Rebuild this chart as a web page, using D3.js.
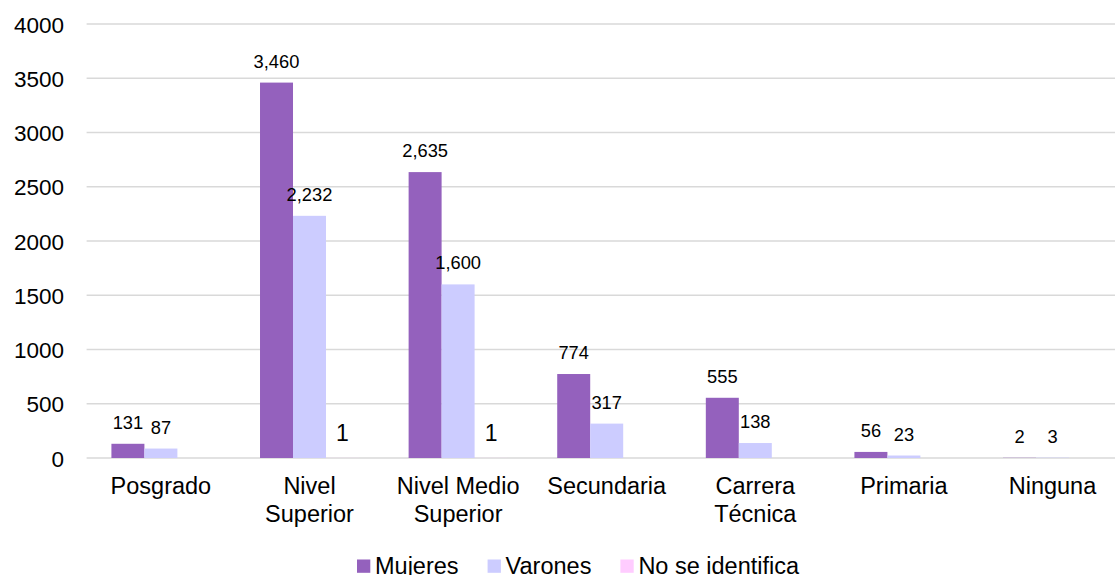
<!DOCTYPE html>
<html><head><meta charset="utf-8">
<script src="https://cdn.jsdelivr.net/npm/d3@7"></script>
<style>
html,body{margin:0;padding:0;background:#fff;}
svg{display:block;font-family:"Liberation Sans",Arial,sans-serif;}
</style></head>
<body>
<svg id="chart" width="1115" height="575"></svg>
<script>
const categories = ["Posgrado","Nivel Superior","Nivel Medio Superior","Secundaria","Carrera Técnica","Primaria","Ninguna"];
const categoryLines = [["Posgrado"],["Nivel","Superior"],["Nivel Medio","Superior"],["Secundaria"],["Carrera","Técnica"],["Primaria"],["Ninguna"]];
const seriesNames = ["Mujeres","Varones","No se identifica"];
const mujeres = [131,3460,2635,774,555,56,2];
const varones = [87,2232,1600,317,138,23,3];
const noIdentifica = [0,1,1,0,0,0,0];
const yTicks = [0,500,1000,1500,2000,2500,3000,3500,4000];
const colors = ["#9461BD","#CCCCFF","#FFCCFF"];

(function(){
const svg = d3.select("#chart");
const pLeft = 86.6, pRight = 1126.8, pTop = 24, pBottom = 458;

const x0 = d3.scaleBand().domain(categories).range([pLeft, pRight]).padding(0);
const gap = x0.bandwidth() * 0.334;
const x1 = d3.scaleBand().domain(seriesNames).range([gap/2, x0.bandwidth() - gap/2]).padding(0);
const y = d3.scaleLinear().domain([0,4000]).range([pBottom, pTop]);

// gridlines
svg.append("g").selectAll("line").data(yTicks).join("line")
  .attr("x1", pLeft).attr("x2", pRight)
  .attr("y1", d => y(d)).attr("y2", d => y(d))
  .attr("stroke", "#D9D9D9").attr("stroke-width", 1.3);

// y axis labels
const yAxis = d3.axisLeft(y).tickValues(yTicks).tickFormat(d3.format("d")).tickSize(0).tickPadding(0);
const ya = svg.append("g").attr("transform", `translate(64,0)`).call(yAxis);
ya.select(".domain").remove();
ya.selectAll("text").attr("font-size", 22.5).attr("fill", "#000")
  .attr("font-family", '"Liberation Sans",Arial,sans-serif')
  .attr("dy", null)
  .attr("y", 8);

const seriesData = [mujeres, varones, noIdentifica];
const rows = categories.map((c, i) => seriesNames.map((s, k) => ({cat: c, s, k, v: seriesData[k][i]})));

const groups = svg.append("g").selectAll("g").data(rows).join("g")
  .attr("transform", (d, i) => `translate(${x0(categories[i])},0)`);

groups.selectAll("rect").data(d => d).join("rect")
  .attr("x", d => x1(d.s)).attr("width", x1.bandwidth())
  .attr("y", d => y(d.v)).attr("height", d => pBottom - y(d.v))
  .attr("fill", d => colors[d.k]);

const fmt = d3.format(",");
groups.selectAll("text").data(d => d.filter(e => e.v > 0)).join("text")
  .attr("x", d => x1(d.s) + x1.bandwidth()/2)
  .attr("y", d => y(d.v) - (d.k === 2 ? 16.5 : 15))
  .attr("text-anchor", "middle")
  .attr("font-size", d => d.k === 2 ? 23 : 18.3)
  .attr("fill", "#000")
  .text(d => fmt(d.v));

// x axis labels
const xl = svg.append("g").selectAll("text").data(categories).join("text")
  .attr("x", d => x0(d) + x0.bandwidth()/2)
  .attr("y", 494)
  .attr("text-anchor", "middle")
  .attr("font-size", 23.5)
  .attr("fill", "#000");
xl.each(function(d, i) {
  const t = d3.select(this);
  categoryLines[i].forEach((ln, j) => {
    t.append("tspan").attr("x", x0(d) + x0.bandwidth()/2).attr("dy", j === 0 ? 0 : 27.7).text(ln);
  });
});

// legend
const lg = svg.append("g");
let lx = 357;
seriesNames.forEach((s, k) => {
  lg.append("rect").attr("x", lx).attr("y", 559.5).attr("width", 13.3).attr("height", 13.3).attr("fill", colors[k]);
  const t = lg.append("text").attr("x", lx + 18).attr("y", 574).attr("font-size", 23.5).attr("fill", "#000").text(s);
  lx = lx + 18 + t.node().getComputedTextLength() + 29;
});
})();
</script>
</body></html>
